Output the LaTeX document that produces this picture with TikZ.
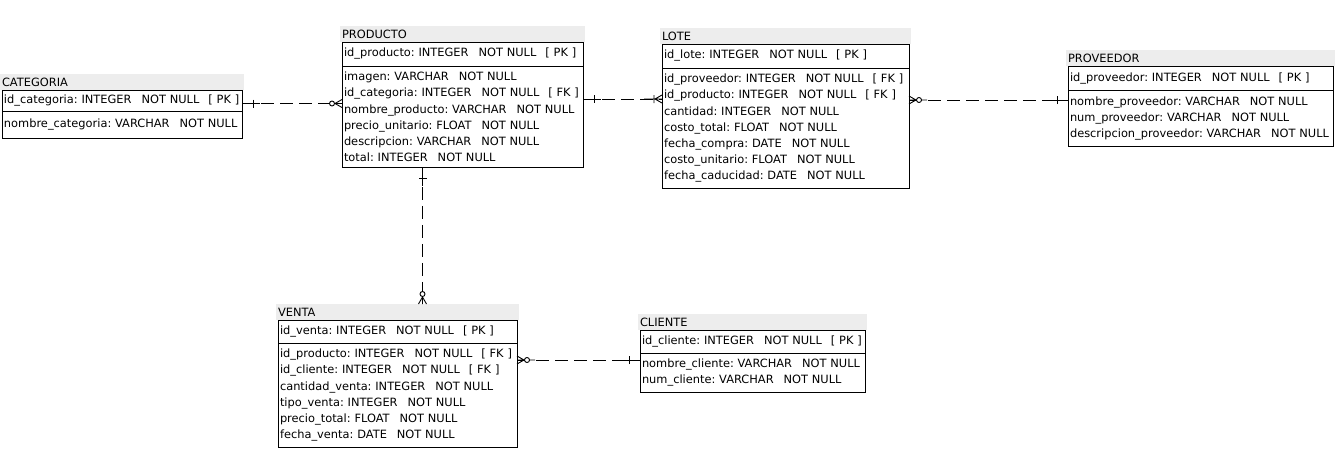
\documentclass[tikz,border=0pt]{standalone}
\usepackage{fontspec}
\setmainfont{DejaVu Sans}
\usetikzlibrary{positioning}
\newcommand{\ermfont}{\fontsize{11.4}{16.2}\selectfont}
\newcommand{\fld}[2]{\mbox{#1:~#2\hspace{10pt}NOT~NULL}}
\newcommand{\pk}{\nobreak\mbox{\hspace{9pt}[~PK~]}}
\newcommand{\fk}{\nobreak\mbox{\hspace{9pt}[~FK~]}}
\tikzset{
    tab-title/.style = {fill=gray!14, outer sep=0pt, inner xsep=2pt, inner ysep=0pt, minimum height=16pt, align=left, font=\ermfont},
    tab-key/.style = {draw, outer sep=0pt, inner xsep=2pt, inner ysep=0pt, align=left, font=\ermfont},
    tab-attr/.style = {draw, outer sep=0pt, inner xsep=2pt, inner ysep=6pt, align=left, font=\ermfont},
    rel/.style = {dash pattern=on 13pt off 6pt},
    one/.pic = {\draw (0,0) -- (18,0) (11,-4) -- (11,4);},
    one-many/.pic = {\draw (0,-4) -- (7,0) -- (0,4) (0,0) -- (18,0) (8,-4) -- (8,4);},
    zero-many/.pic = {\draw (0,-4) -- (7,0) -- (0,4) (0,0) -- (18,0); \draw[fill=white] (10,0) circle (2.5);},
}

\begin{document}
\begin{tikzpicture}[x=1pt, y=-1pt, line width=0.9pt]
\useasboundingbox (0,0) rectangle (1343,450);

% CATEGORIA
\node[tab-key, anchor=north west, text width=236pt, minimum height=21pt] (catK) at (2,90) {\fld{id\_categoria}{INTEGER}\pk};
\node[tab-attr, text width=236pt, minimum height=27pt, below=0pt of catK] (catA) {\fld{nombre\_categoria}{VARCHAR}};
\node[tab-title, text width=240pt, above=0pt of catK] (catT) {CATEGORIA};

% PRODUCTO
\node[tab-key, anchor=north west, text width=237pt, minimum height=24pt] (prodK) at (342,42) {\fld{id\_producto}{INTEGER}\pk};
\node[tab-attr, text width=237pt, below=0pt of prodK] (prodA) {\fld{imagen}{VARCHAR}\\
    \fld{id\_categoria}{INTEGER}\fk\\
    \fld{nombre\_producto}{VARCHAR}\\
    \fld{precio\_unitario}{FLOAT}\\
    \fld{descripcion}{VARCHAR}\\
    \fld{total}{INTEGER}};
\node[tab-title, text width=241pt, above=0pt of prodK] (prodT) {PRODUCTO};

% LOTE
\node[tab-key, anchor=north west, text width=243pt, minimum height=24pt] (loteK) at (662,44) {\fld{id\_lote}{INTEGER}\pk};
\node[tab-attr, text width=243pt, below=0pt of loteK] (loteA) {\fld{id\_proveedor}{INTEGER}\fk\\
    \fld{id\_producto}{INTEGER}\fk\\
    \fld{cantidad}{INTEGER}\\
    \fld{costo\_total}{FLOAT}\\
    \fld{fecha\_compra}{DATE}\\
    \fld{costo\_unitario}{FLOAT}\\
    \fld{fecha\_caducidad}{DATE}};
\node[tab-title, text width=247pt, above=0pt of loteK] (loteT) {LOTE};

% PROVEEDOR
\node[tab-key, anchor=north west, text width=261pt, minimum height=24.5pt] (provK) at (1068,66) {\fld{id\_proveedor}{INTEGER}\pk};
\node[tab-attr, text width=261pt, below=0pt of provK] (provA) {\fld{nombre\_proveedor}{VARCHAR}\\
    \fld{num\_proveedor}{VARCHAR}\\
    \fld{descripcion\_proveedor}{VARCHAR}};
\node[tab-title, text width=265pt, above=0pt of provK] (provT) {PROVEEDOR};

% VENTA
\node[tab-key, anchor=north west, text width=235pt, minimum height=23pt] (ventaK) at (278,320) {\fld{id\_venta}{INTEGER}\pk};
\node[tab-attr, text width=235pt, below=0pt of ventaK] (ventaA) {\fld{id\_producto}{INTEGER}\fk\\
    \fld{id\_cliente}{INTEGER}\fk\\
    \fld{cantidad\_venta}{INTEGER}\\
    \fld{tipo\_venta}{INTEGER}\\
    \fld{precio\_total}{FLOAT}\\
    \fld{fecha\_venta}{DATE}};
\node[tab-title, text width=239pt, above=0pt of ventaK] (ventaT) {VENTA};

% CLIENTE
\node[tab-key, anchor=north west, text width=221pt, minimum height=23pt] (cliK) at (640,330) {\fld{id\_cliente}{INTEGER}\pk};
\node[tab-attr, text width=221pt, below=0pt of cliK] (cliA) {\fld{nombre\_cliente}{VARCHAR}\\
    \fld{num\_cliente}{VARCHAR}};
\node[tab-title, text width=225pt, above=0pt of cliK] (cliT) {CLIENTE};

% relations
\coordinate (r1) at ([yshift=-3pt]catK.east);
\coordinate (r2) at ([yshift=-33pt]prodA.north east);
\coordinate (r3) at ([yshift=-32pt]loteA.north east);
\coordinate (r4) at ([xshift=-40pt]prodA.south);
\coordinate (r5) at ([yshift=-17pt]ventaA.north east);

\draw[rel] (r1) -- (r1 -| prodA.west);
\pic at (r1) {one};
\pic[rotate=180] at (r1 -| prodA.west) {zero-many};

\draw[rel] (r2) -- (r2 -| loteA.west);
\pic at (r2) {one};
\pic[rotate=180] at (r2 -| loteA.west) {one-many};

\draw[rel] (r3) -- (r3 -| provA.west);
\pic at (r3) {zero-many};
\pic[rotate=180] at (r3 -| provA.west) {one};

\draw[rel] (r4) -- (r4 |- ventaT.north);
\pic[rotate=-90] at (r4) {one};
\pic[rotate=90] at (r4 |- ventaT.north) {zero-many};

\draw[rel] (r5) -- (r5 -| cliA.west);
\pic at (r5) {zero-many};
\pic[rotate=180] at (r5 -| cliA.west) {one};
\end{tikzpicture}
\end{document}
